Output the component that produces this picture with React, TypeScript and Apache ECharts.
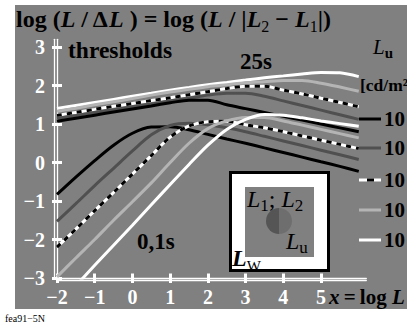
import React, { useEffect, useRef } from "react";
import * as echarts from "echarts";

// x positions (log L) shared by all curves
const xs = [-2, -1.5, -1, -0.5, 0, 0.5, 1, 1.5, 2, 2.5, 3, 3.5, 4, 4.5, 5, 5.5, 6];

// 25 s thresholds
const white25 = [1.4, 1.48, 1.56, 1.64, 1.72, 1.8, 1.88, 1.95, 2.02, 2.08, 2.14, 2.2, 2.25, 2.3, 2.34, 2.33, 2.23];
const light25 = [1.33, 1.41, 1.5, 1.58, 1.66, 1.75, 1.83, 1.9, 1.97, 2.02, 2.07, 2.1, 2.13, 2.13, 2.06, 1.96, 1.85];
const dashed25 = [1.22, 1.3, 1.38, 1.46, 1.53, 1.61, 1.68, 1.76, 1.84, 1.92, 1.98, 1.98, 1.88, 1.78, 1.67, 1.56, 1.45];
const dark25 = [1.15, 1.22, 1.3, 1.37, 1.45, 1.52, 1.6, 1.67, 1.75, 1.8, 1.8, 1.72, 1.6, 1.48, 1.36, 1.24, 1.12];
const black25 = [1.07, 1.15, 1.23, 1.31, 1.39, 1.47, 1.55, 1.62, 1.62, 1.5, 1.4, 1.3, 1.2, 1.1, 1.0, 0.9, 0.8];

// 0,1 s thresholds
const black01 = [-0.83, -0.38, 0.05, 0.45, 0.76, 0.92, 0.93, 0.85, 0.73, 0.61, 0.5, 0.38, 0.26, 0.14, 0.02, -0.1, -0.23];
const dark01 = [-1.53, -1.07, -0.6, -0.15, 0.3, 0.72, 0.96, 1.02, 0.98, 0.9, 0.8, 0.68, 0.56, 0.44, 0.32, 0.2, 0.08];
const dashed01 = [-2.2, -1.73, -1.25, -0.78, -0.3, 0.18, 0.66, 0.95, 1.06, 1.07, 0.98, 0.9, 0.8, 0.69, 0.58, 0.47, 0.36];
const light01 = [-2.97, -2.48, -2.0, -1.5, -1.02, -0.53, 0.0, 0.5, 0.88, 1.08, 1.17, 1.17, 1.08, 0.97, 0.86, 0.75, 0.64];
const white01 = [-3.72, -3.2, -2.67, -2.15, -1.63, -1.1, -0.57, -0.05, 0.45, 0.86, 1.12, 1.25, 1.23, 1.16, 1.08, 1.01, 0.94];

const xTicks = [-2, -1, 0, 1, 2, 3, 4, 5];
const yTicks = [-3, -2, -1, 0, 1, 2, 3];
const legendLabels = ["10", "10", "10", "10", "10"];

const SERIF = '"Liberation Serif", "DejaVu Serif", serif';
const BG = "#808080";
const DARK = "#505050";
const LIGHT = "#b4b4b4";

const fmt = (v: number) => String(v).replace("-", "\u2212");

export default function App() {
  const ref = useRef<HTMLDivElement>(null);
  useEffect(() => {
    if (!ref.current) return;
    const chart = echarts.init(ref.current, null, { renderer: "svg" });
    const pts = (ys: number[]) => xs.map((x, i) => [x, ys[i]]);
    const line = (ys: number[], color: string, z: number, dash?: number[]) => ({
      type: "line",
      data: pts(ys),
      smooth: 0.3,
      symbol: "none",
      silent: true,
      z,
      lineStyle: { color, width: 3, type: dash ? dash : "solid", cap: "butt" },
    });

    const axisX = (second: boolean) => ({
      type: "value",
      min: -2,
      max: 6.2,
      position: "bottom",
      offset: second ? 2.5 : 0,
      axisLine: { show: true, onZero: false, lineStyle: { color: "#fff", width: 1.3 } },
      axisTick: {
        show: true,
        inside: second,
        length: second ? 7 : 5,
        customValues: xTicks,
        lineStyle: { color: "#fff", width: 3 },
      },
      axisLabel: second
        ? { show: false }
        : {
            show: true,
            customValues: xTicks,
            formatter: fmt,
            color: "#fff",
            fontSize: 20,
            fontWeight: "bold",
            fontFamily: SERIF,
            margin: 9,
          },
      splitLine: { show: false },
    });
    const axisY = (second: boolean) => ({
      type: "value",
      min: -3,
      max: 3.2,
      position: "left",
      offset: second ? 2.5 : 0,
      axisLine: { show: true, onZero: false, lineStyle: { color: "#fff", width: 1.3 } },
      axisTick: {
        show: true,
        inside: second,
        length: second ? 7.5 : 5,
        customValues: yTicks,
        lineStyle: { color: "#fff", width: 3 },
      },
      axisLabel: second
        ? { show: false }
        : {
            show: true,
            customValues: yTicks,
            formatter: fmt,
            color: "#fff",
            fontSize: 20,
            fontWeight: "bold",
            fontFamily: SERIF,
            margin: 12,
          },
      splitLine: { show: false },
    });

    const txt = (x: number, y: number, text: string, rich: any, z: number = 20) => ({
      type: "text",
      x,
      y,
      z,
      silent: true,
      style: { text, rich, align: "left", verticalAlign: "middle" },
    });
    const R = (size: number, opts: any = {}) => ({
      fontSize: size,
      fontFamily: SERIF,
      color: "#fff",
      fontWeight: "bold",
      lineHeight: size + 6,
      ...opts,
    });

    const legendColors = ["#000", DARK, "dash", LIGHT, "#fff"];
    const legendTextColors = ["#000", DARK, "#fff", LIGHT, "#fff"];
    const legendYs = [119, 148, 180, 210, 240];
    const legendEls: any[] = [];
    legendColors.forEach((c, i) => {
      const y = legendYs[i];
      if (c === "dash") {
        legendEls.push({ type: "line", z: 20, shape: { x1: 359, y1: y, x2: 381, y2: y }, style: { stroke: "#fff", lineWidth: 3 } });
        legendEls.push({ type: "line", z: 21, shape: { x1: 367, y1: y, x2: 374, y2: y }, style: { stroke: "#000", lineWidth: 3 } });
      } else {
        legendEls.push({ type: "line", z: 20, shape: { x1: 359, y1: y, x2: 381, y2: y }, style: { stroke: c, lineWidth: 3 } });
      }
      legendEls.push(txt(384, y, `{b|${legendLabels[i]}}`, { b: R(21, { color: legendTextColors[i] }) }));
    });

    chart.setOption({
      animation: false,
      backgroundColor: "#fff",
      grid: { left: 57, top: 39.3, width: 309.3, height: 238.7, containLabel: false },
      xAxis: [axisX(false), axisX(true)],
      yAxis: [axisY(false), axisY(true)],
      series: [
        line(white25, "#fff", 2),
        line(light25, LIGHT, 3),
        line(dashed25, "#fff", 4),
        line(dashed25, "#000", 5, [5, 5]),
        line(dark25, DARK, 6),
        line(black25, "#000", 7),
        line(black01, "#000", 8),
        line(dark01, DARK, 9),
        line(dashed01, "#fff", 10),
        line(dashed01, "#000", 11, [5, 5]),
        line(light01, LIGHT, 12),
        line(white01, "#fff", 13),
      ],
      graphic: [
        { type: "rect", z: -10, silent: true, shape: { x: 15, y: 5, width: 400, height: 304 }, style: { fill: BG } },
        txt(5, 318, "{n|fea91\u22125N}", { n: { fontSize: 10, fontFamily: SERIF, color: "#000", lineHeight: 12 } }),
        txt(
          16,
          19,
          "{b|log (}{i|L}{b| / \u0394}{i|L}{b| ) = log (}{i|L}{b| / |}{i|L}{s|2}{b| \u2212 }{i|L}{s|1}{b||)}",
          {
            b: R(24),
            i: R(24, { fontStyle: "italic" }),
            s: R(16, { fontWeight: "normal", lineHeight: 16, verticalAlign: "bottom" }),
          }
        ),
        txt(68, 50, "{b|thresholds}", { b: R(23.5) }),
        txt(240, 61, "{b|25s}", { b: R(23) }),
        txt(137, 241, "{b|0,1s}", { b: R(23) }),
        txt(373, 47, "{i|L}{s|u}", {
          i: R(21, { fontStyle: "italic", fontWeight: "normal" }),
          s: R(15, { lineHeight: 15, verticalAlign: "bottom" }),
        }),
        txt(360, 85, "{b|[cd/m\u00b2]}", { b: R(17.5) }),
        txt(329, 297, "{i|x}{b|\u2009=\u2009log }{bi|L}", {
          i: R(21, { fontStyle: "italic" }),
          b: R(21),
          bi: R(21, { fontStyle: "italic" }),
        }),
        ...legendEls,
        // inset diagram
        { type: "rect", z: 20, silent: true, shape: { x: 230.5, y: 172.5, width: 98, height: 98 }, style: { fill: "#fff", stroke: "#000", lineWidth: 3 } },
        { type: "rect", z: 21, silent: true, shape: { x: 245, y: 187, width: 69, height: 70 }, style: { fill: BG } },
        { type: "sector", z: 22, silent: true, shape: { cx: 279, cy: 221, r: 13, startAngle: Math.PI / 2, endAngle: (3 * Math.PI) / 2 }, style: { fill: "#555" } },
        { type: "sector", z: 22, silent: true, shape: { cx: 279, cy: 221, r: 13, startAngle: -Math.PI / 2, endAngle: Math.PI / 2 }, style: { fill: "#6e6e6e" } },
        txt(
          247,
          199,
          "{i|L}{s|1}{n|; }{i|L}{s|2}",
          {
            i: R(24, { fontStyle: "italic", fontWeight: "normal" }),
            n: R(24, { fontWeight: "normal" }),
            s: R(17, { fontWeight: "normal", lineHeight: 17, verticalAlign: "bottom" }),
          },
          30
        ),
        txt(
          286,
          241,
          "{i|L}{s|u}",
          {
            i: R(24, { fontStyle: "italic", fontWeight: "normal" }),
            s: R(17, { fontWeight: "normal", lineHeight: 17, verticalAlign: "bottom" }),
          },
          30
        ),
        txt(
          232,
          258,
          "{i|L}{s|W}",
          {
            i: R(24, { fontStyle: "italic", color: "#000" }),
            s: R(15, { fontWeight: "normal", color: "#000", lineHeight: 15, verticalAlign: "bottom" }),
          },
          30
        ),
      ],
    });
    return () => chart.dispose();
  }, []);
  return <div ref={ref} style={{ position: "fixed", left: 0, top: 0, width: 407, height: 323 }} />;
}
